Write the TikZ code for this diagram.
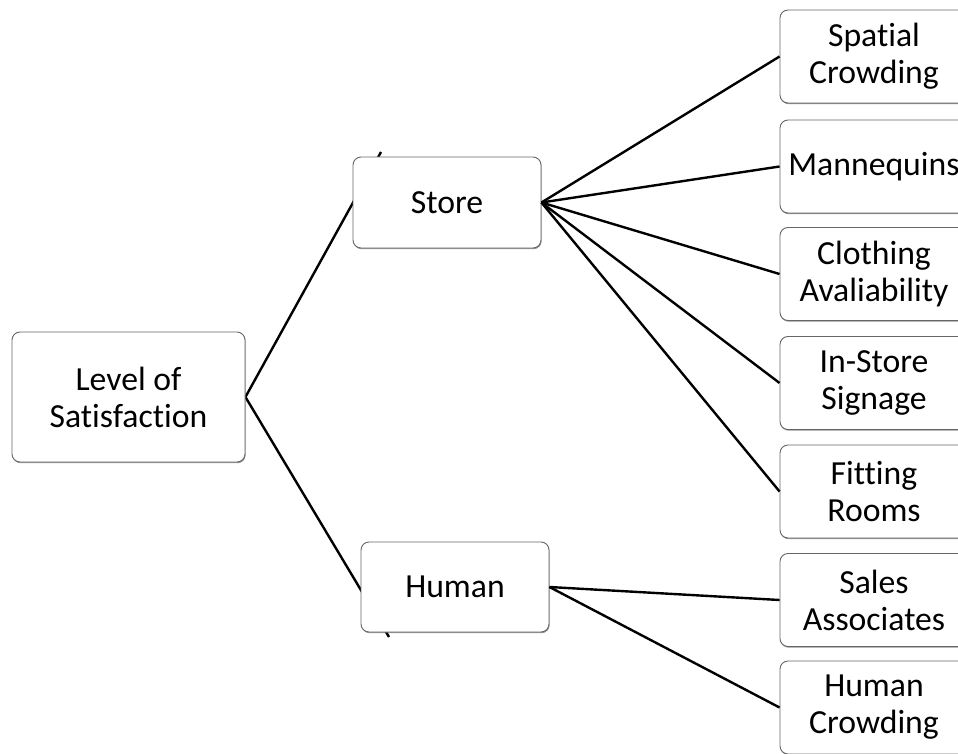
\documentclass[tikz,border=0pt]{standalone}
\usepackage{fontspec}
\setmainfont{Carlito}[Ligatures=NoCommon]
\usetikzlibrary{backgrounds,shadows}
\begin{document}
\begin{tikzpicture}[x=1pt,y=-1pt,
  box/.style={draw=black!60, line width=0.9pt, fill=white, rounded corners=8pt,
    align=center, inner sep=0pt, font=\fontsize{33.7}{37}\selectfont,
    drop shadow={shadow xshift=0.6pt, shadow yshift=-1.2pt, opacity=0.6, fill=black!70}},
  conn/.style={line width=2.4pt, black}]
\useasboundingbox (0,0) rectangle (958,754);
\node[box, minimum width=233pt, minimum height=130pt] (lvl) at (128.5,397) {Level of\\Satisfaction};
\node[box, minimum width=188pt, minimum height=91pt] (store) at (447,202.5) {Store};
\node[box, minimum width=188pt, minimum height=90pt] (human) at (455,587) {Human};
\foreach \n/\y/\t in {r1/56.5/{Spatial\\Crowding}, r2/166.5/{Mannequins}, r3/274/{Clothing\\Avaliability}, r4/383/{In-Store\\Signage}, r5/491.5/{Fitting\\Rooms}, r6/600/{Sales\\Associates}, r7/707.5/{Human\\Crowding}}
  \node[box, minimum width=188pt, minimum height=93pt] (\n) at (874,\y) {\t};
\coordinate (sstub) at (381,152);
\coordinate (hstub) at (389,637);
\begin{scope}[on background layer]
\draw[conn] (lvl.east) -- (sstub);
\draw[conn] (lvl.east) -- (hstub);
\end{scope}
\foreach \r in {r1,r2,r3,r4,r5} \draw[conn] (store.east) -- (\r.west);
\foreach \r in {r6,r7} \draw[conn] (human.east) -- (\r.west);
\end{tikzpicture}
\end{document}
